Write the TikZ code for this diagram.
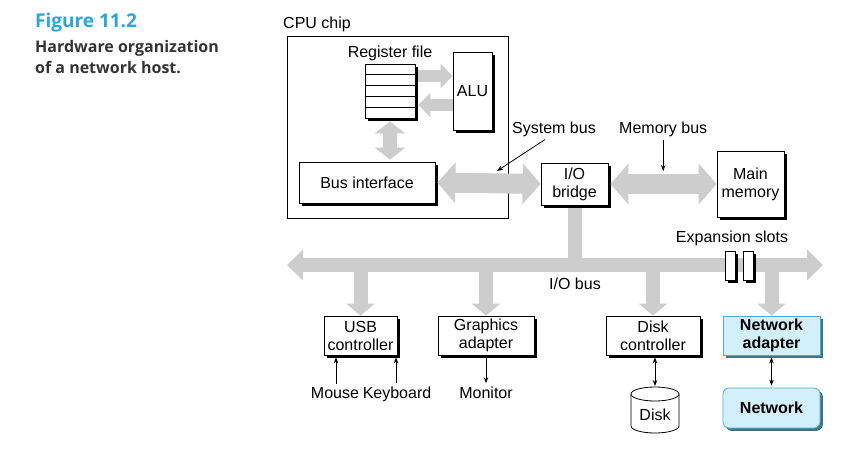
\documentclass[tikz,border=0pt]{standalone}
\usepackage{fontspec}
\setmainfont{Liberation Sans}
\newfontfamily\titlefont{Open Sans}
\usetikzlibrary{arrows.meta,shadows,calc}
\definecolor{busgray}{RGB}{205,205,205}
\definecolor{figblue}{RGB}{40,166,222}
\definecolor{netfill}{RGB}{210,240,251}
\definecolor{netline}{RGB}{80,170,210}

\begin{document}
\begin{tikzpicture}[x=1pt,y=-1pt,
  every node/.style={font=\fontsize{16}{18}\selectfont},
  box/.style={draw, line width=0.8pt, fill=white, align=center, inner sep=0pt,
    drop shadow={shadow xshift=2.5pt, shadow yshift=-2.5pt, fill=black, opacity=1}},
  netbox/.style={box, draw=netline, fill=netfill, font=\fontsize{16}{18}\selectfont\bfseries,
    drop shadow={shadow xshift=2.5pt, shadow yshift=-2.5pt, fill=netline!70!black, opacity=1}},
  fatbus/.style={busgray, line width=20pt, arrows={Triangle[length=18pt,width=40pt]-Triangle[length=18pt,width=40pt]}},
  iobus/.style={busgray, line width=14pt, arrows={Triangle[length=16pt,width=30pt]-Triangle[length=16pt,width=30pt]}},
  inbus/.style={busgray, line width=14pt, arrows={-Triangle[length=12pt,width=28pt]}},
  wire/.style={line width=0.8pt, arrows={-Stealth[length=6pt,width=4.5pt]}},
  wires/.style={line width=0.8pt, arrows={Stealth[length=6pt,width=4.5pt]-Stealth[length=6pt,width=4.5pt]}}]
  \useasboundingbox (0,0) rectangle (851,461);

  % Caption
  \node[anchor=base west, inner sep=0pt, text=figblue, font=\titlefont\bfseries\fontsize{19}{20}\selectfont] (fignum) at (35,27) {Figure 11.2};
  \node[anchor=base west, inner sep=0pt, text=black!80, font=\titlefont\bfseries\fontsize{16}{20}\selectfont] (cap1) at (35,52) {Hardware organization};
  \node[anchor=base west, inner sep=0pt, text=black!80, font=\titlefont\bfseries\fontsize{16}{20}\selectfont] (cap2) at (35,73) {of a network host.};

  % CPU chip
  \node[draw, line width=0.8pt, minimum width=221pt, minimum height=182pt] (cpu) at (397.5,127) {};
  \node[anchor=base west, inner sep=0pt] (cpulabel) at (283,28) {CPU chip};

  \node[box, minimum width=50pt, minimum height=54pt] (regfile) at (390,91) {};
  \foreach \k in {1,...,4}
    \draw[line width=0.8pt] ($(regfile.north west)!\k/5!(regfile.south west)$) -- ($(regfile.north east)!\k/5!(regfile.south east)$);
  \node[anchor=base, inner sep=0pt] (reglabel) at (390,57) {Register file};
  \node[box, minimum width=39pt, minimum height=78pt] (alu) at (472.5,91) {ALU};
  \node[box, minimum width=136pt, minimum height=41pt] (bif) at (367,182.5) {Bus interface};

  % Bridge and memory
  \node[box, minimum width=67pt, minimum height=42pt] (bridge) at (574.5,184) {I/O\\bridge};
  \node[box, minimum width=67pt, minimum height=66pt] (mem) at (750.5,184) {Main\\memory};

  % Devices
  \node[box, minimum width=73pt, minimum height=39pt] (usb) at (360.5,335.5) {USB\\controller};
  \node[box, minimum width=96pt, minimum height=39pt] (gfx) at (486,335.5) {Graphics\\adapter};
  \node[box, minimum width=94pt, minimum height=39pt] (dctl) at (653,335.5) {Disk\\controller};
  \node[netbox, minimum width=97pt, minimum height=39pt] (nic) at (771.5,335.5) {Network\\adapter};
  \node[netbox, rounded corners=6pt, minimum width=97pt, minimum height=40pt] (net) at (771.5,408) {Network};

  % Disk
  \draw[line width=0.8pt, fill=white] (631,394) -- (631,426) arc[start angle=180, end angle=0, x radius=24, y radius=7] -- (679,394);
  \draw[line width=0.8pt, fill=white] (655,394) ellipse[x radius=24, y radius=7];
  \node[inner sep=0pt] (disk) at (655,415) {Disk};
  \coordinate (disktop) at (655,386);

  % Buses
  \draw[busgray, line width=12pt, arrows={-Triangle[length=12pt,width=24pt]}] ([xshift=3pt,yshift=15pt]regfile.east) -- ([yshift=15pt]alu.west);
  \draw[busgray, line width=12pt, arrows={-Triangle[length=12pt,width=24pt]}] ([yshift=-14pt]alu.west) -- ([xshift=3pt,yshift=-14pt]regfile.east);
  \draw[busgray, line width=14pt, arrows={Triangle[length=12pt,width=30pt]-Triangle[length=12pt,width=30pt]}] ([yshift=-3pt]regfile.south) -- ([yshift=2pt]regfile.south |- bif.north);
  \draw[fatbus] ([xshift=2pt]bif.east) -- (bridge.west);
  \draw[fatbus] ([xshift=2pt]bridge.east) -- (mem.west);

  \coordinate (busL) at (287,265);
  \coordinate (busR) at (823,265);
  \draw[busgray, line width=14pt] ([yshift=-3pt]bridge.south) -- (bridge.south |- busL);
  \draw[iobus] (busL) -- (busR);
  \foreach \dev in {usb, gfx, dctl, nic}
    \draw[inbus] (\dev.north |- busL) -- (\dev.north);
  \node[anchor=base, inner sep=0pt] (iolabel) at (575,289) {I/O bus};

  % Expansion slots
  \node[box, minimum width=10pt, minimum height=29pt] (slot1) at (730,265.5) {};
  \node[box, minimum width=10pt, minimum height=29pt] (slot2) at (748,265.5) {};
  \node[anchor=base, inner sep=0pt] (slotlabel) at (732,242) {Expansion slots};

  % Bus labels
  \node[anchor=base west, inner sep=0pt] (sysbus) at (512,133) {System bus};
  \node[anchor=base west, inner sep=0pt] (membus) at (619,133) {Memory bus};
  \draw[wire] ([xshift=33pt,yshift=-3pt]sysbus.south west) -- (497,171);
  \draw[wire] ([yshift=-3pt]membus.south) -- (membus.south |- 0,171);

  % Peripherals
  \node[anchor=base, inner sep=0pt] (mouse) at (335,398) {Mouse};
  \node[anchor=base, inner sep=0pt] (kbd) at (397,398) {Keyboard};
  \node[anchor=base, inner sep=0pt] (mon) at (486,398) {Monitor};
  \draw[wire] ([xshift=1pt,yshift=3pt]mouse.north) -- ([yshift=-2pt]usb.south -| 336,0);
  \draw[wire] ([xshift=-1pt,yshift=3pt]kbd.north) -- ([yshift=-2pt]usb.south -| 396,0);
  \draw[wire] ([yshift=-2pt]gfx.south) -- ([yshift=3pt]mon.north);
  \draw[wires] ([yshift=-2pt]dctl.south -| disktop) -- (disktop);
  \draw[wires] ([yshift=-2pt]nic.south) -- ([yshift=2pt]net.north);
\end{tikzpicture}
\end{document}
